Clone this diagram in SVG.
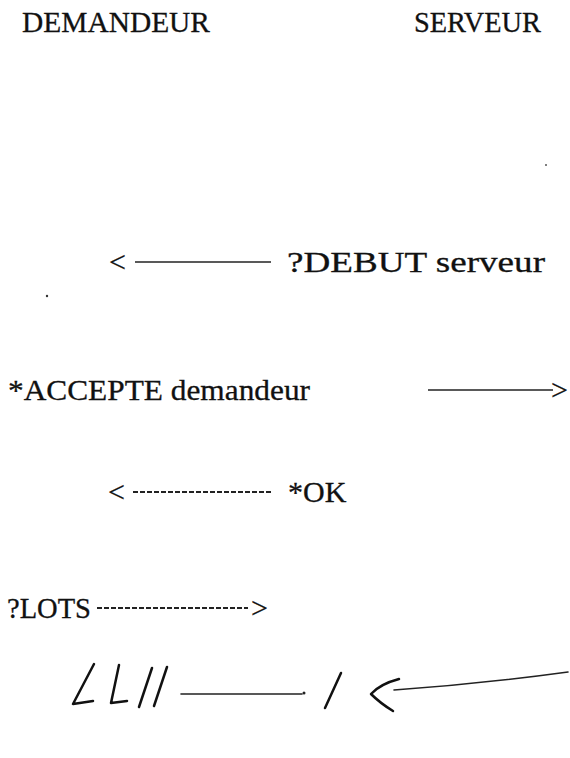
<svg xmlns="http://www.w3.org/2000/svg" width="570" height="758" viewBox="0 0 570 758">
<style>
.t{font-family:"Liberation Serif","Times New Roman",serif;font-size:30px;fill:#111;stroke:#111;stroke-width:0.3}
.ln{stroke:#222;stroke-width:1.7;fill:none}
.dl{stroke:#222;stroke-width:1.9;fill:none;stroke-dasharray:5 2}
.hw{stroke:#111;stroke-width:2.5;fill:none;stroke-linecap:round;stroke-linejoin:round}
.hl{stroke:#222;stroke-width:1.6;fill:none;stroke-linecap:round}
</style>
<rect width="570" height="758" fill="#fff"/>
<g id="demandeur"><text class="t" x="22" y="32" textLength="188" lengthAdjust="spacingAndGlyphs">DEMANDEUR</text></g>
<g id="serveur"><text class="t" x="414" y="32" textLength="127" lengthAdjust="spacingAndGlyphs">SERVEUR</text></g>
<g id="msg-debut"><text class="t" x="287" y="272" font-size="32" textLength="258" lengthAdjust="spacingAndGlyphs">?DEBUT serveur</text></g>
<g id="msg-accepte"><text class="t" x="8" y="400" textLength="302" lengthAdjust="spacingAndGlyphs">*ACCEPTE demandeur</text></g>
<g id="msg-ok"><text class="t" x="288" y="502">*OK</text></g>
<g id="msg-lots"><text class="t" x="7" y="618" textLength="84" lengthAdjust="spacingAndGlyphs">?LOTS</text></g>
<g id="marks">
<circle cx="47" cy="296" r="1.2" fill="#333"/>
<circle cx="546" cy="165" r="1" fill="#555"/>
</g>
<g id="connectors">
<text class="t" x="109" y="272">&lt;</text>
<line class="ln" x1="135" y1="262" x2="271" y2="262"/>
<line class="ln" x1="428" y1="390" x2="553" y2="390"/>
<text class="t" x="551" y="400">&gt;</text>
<text class="t" x="108" y="502">&lt;</text>
<line class="dl" x1="133" y1="492" x2="272" y2="492"/>
<line class="dl" x1="97" y1="608" x2="248" y2="608"/>
<text class="t" x="251" y="618">&gt;</text>
</g>
<g id="handwriting">
<path class="hw" d="M94,664 L73,704 L93,701"/>
<path class="hw" d="M119,665 L111,703 L127,701"/>
<path class="hw" d="M152,668 L139,707"/>
<path class="hw" d="M167,667 L154,706"/>
<path class="hl" d="M181,694 L302,694"/>
<circle cx="304" cy="693" r="1.5" fill="#222"/>
<path class="hw" d="M341,673 L325,708"/>
<path class="hw" d="M399,679 Q380,684 371,694 Q380,703 393,711"/>
<path class="hl" d="M394,690 Q480,684 568,672"/>
</g>
</svg>
